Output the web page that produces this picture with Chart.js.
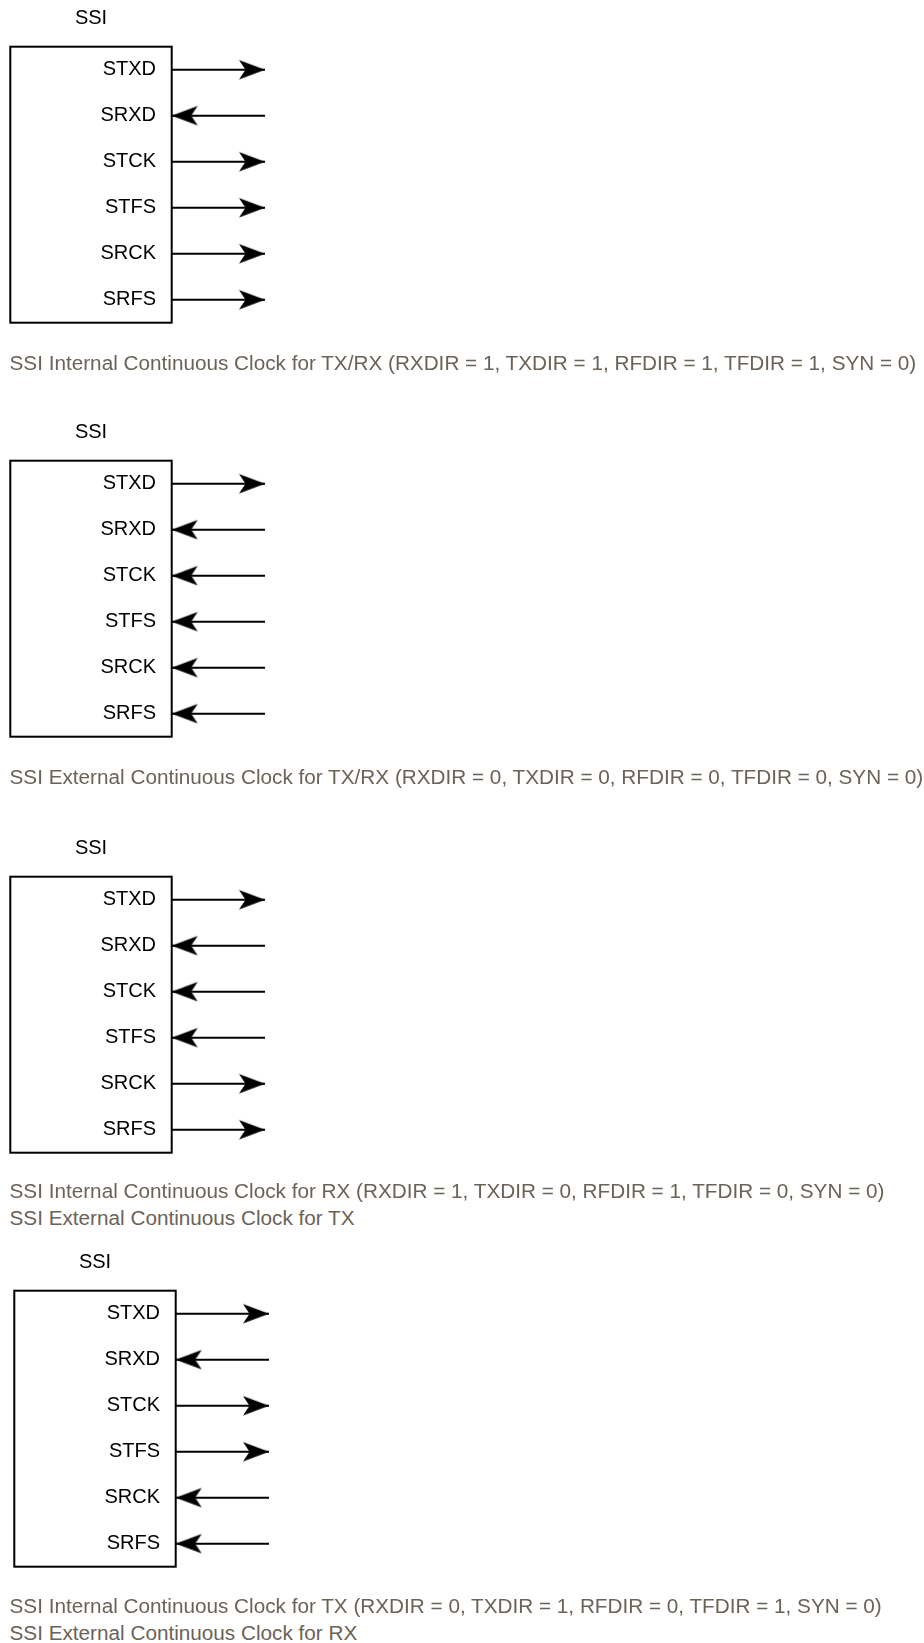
<!DOCTYPE html>
<html><head><meta charset="utf-8">
<script src="https://cdn.jsdelivr.net/npm/chart.js@4/dist/chart.umd.min.js"></script>
<style>
html,body{margin:0;padding:0;background:#fff;}
body{width:924px;height:1643px;position:relative;overflow:hidden;}
.panel{position:absolute;}
.cap{position:absolute;left:9.5px;font-family:"Liberation Sans",Arial,sans-serif;font-size:19px;line-height:26.6px;color:#6b6258;white-space:nowrap;}
</style></head><body>
<script>
// ---- data ----
const signals = ['STXD', 'SRXD', 'STCK', 'STFS', 'SRCK', 'SRFS'];
const blockTitles = ['SSI', 'SSI', 'SSI', 'SSI'];
const dirsPanel1 = ['out', 'in', 'out', 'out', 'out', 'out'];
const dirsPanel2 = ['out', 'in', 'in', 'in', 'in', 'in'];
const dirsPanel3 = ['out', 'in', 'in', 'in', 'out', 'out'];
const dirsPanel4 = ['out', 'in', 'out', 'out', 'in', 'in'];
const captionsPanel1 = ['SSI Internal Continuous Clock for TX/RX (RXDIR = 1, TXDIR = 1, RFDIR = 1, TFDIR = 1, SYN = 0)'];
const captionsPanel2 = ['SSI External Continuous Clock for TX/RX (RXDIR = 0, TXDIR = 0, RFDIR = 0, TFDIR = 0, SYN = 0)'];
const captionsPanel3 = ['SSI Internal Continuous Clock for RX (RXDIR = 1, TXDIR = 0, RFDIR = 1, TFDIR = 0, SYN = 0)', 'SSI External Continuous Clock for TX'];
const captionsPanel4 = ['SSI Internal Continuous Clock for TX (RXDIR = 0, TXDIR = 1, RFDIR = 0, TFDIR = 1, SYN = 0)', 'SSI External Continuous Clock for RX'];

const allDirs = [dirsPanel1, dirsPanel2, dirsPanel3, dirsPanel4];
const allCaps = [captionsPanel1, captionsPanel2, captionsPanel3, captionsPanel4];

// ---- layout (positions / styles) ----
const panelTops = [0, 414.3, 830, 1244.3];
const panelLefts = [0, 0, 0, 4.3];
const captionBaselines = [370.5, 784.5, 1198.7, 1613.5];
const CANVAS_W = 290, CANVAS_H = 352;
const FONT = '"Liberation Sans", Arial, Helvetica, sans-serif';

// fit caption font to reference width
const mc = document.createElement('canvas').getContext('2d');
mc.font = '100px ' + FONT;
const capSize = 908 / mc.measureText(captionsPanel1[0]).width * 100;

// arrowhead image (tip at image centre, pointing right)
function makeArrow() {
  const L = 28, H = 24;
  const c = document.createElement('canvas');
  c.width = 2 * L; c.height = H;
  const g = c.getContext('2d');
  g.fillStyle = '#000';
  g.beginPath();
  g.moveTo(L, H / 2);
  g.lineTo(L - 26, H / 2 - 9.8);
  g.quadraticCurveTo(L - 21.5, H / 2 - 3, L - 19.5, H / 2);
  g.quadraticCurveTo(L - 21.5, H / 2 + 3, L - 26, H / 2 + 9.8);
  g.closePath();
  g.fill();
  return c;
}
const arrowImg = makeArrow();

const boxPlugin = {
  id: 'ssiBox',
  beforeDatasetsDraw(chart) {
    const ca = chart.chartArea, ys = chart.scales.y, ctx = chart.ctx;
    ctx.save();
    ctx.strokeStyle = '#000';
    ctx.lineWidth = 2;
    ctx.strokeRect(ys.left, ca.top, ca.left - ys.left, ca.bottom - ca.top);
    ctx.fillStyle = '#000';
    ctx.font = '20px ' + FONT;
    ctx.textAlign = 'center';
    ctx.textBaseline = 'middle';
    ctx.fillText(chart.options.plugins.ssiBox.title, (ys.left + ca.left) / 2, ca.top - 28.5);
    ctx.restore();
  }
};

allDirs.forEach((dirs, p) => {
  const cv = document.createElement('canvas');
  cv.className = 'panel';
  cv.width = CANVAS_W; cv.height = CANVAS_H;
  cv.style.width = CANVAS_W + 'px'; cv.style.height = CANVAS_H + 'px';
  cv.style.top = panelTops[p] + 'px';
  cv.style.left = panelLefts[p] + 'px';
  document.body.appendChild(cv);

  const datasets = signals.map((s, i) => {
    const out = dirs[i] === 'out';
    return {
      label: s,
      data: [{ x: 0, y: s }, { x: 1, y: s }],
      borderColor: '#000',
      borderWidth: 2,
      pointStyle: arrowImg,
      pointRadius: out ? [0, 5] : [5, 0],
      pointHoverRadius: out ? [0, 5] : [5, 0],
      pointRotation: out ? 0 : 180,
      clip: false,
      tension: 0
    };
  });

  new Chart(cv, {
    type: 'line',
    data: { datasets },
    plugins: [boxPlugin],
    options: {
      responsive: false,
      animation: false,
      events: [],
      layout: { padding: { left: 10.3, top: 46.7, right: CANVAS_W - 265, bottom: CANVAS_H - 322.7 } },
      plugins: { legend: { display: false }, tooltip: { enabled: false }, ssiBox: { title: blockTitles[p] } },
      scales: {
        x: { type: 'linear', min: 0, max: 1, display: false },
        y: {
          type: 'category', labels: signals, offset: true,
          grid: { display: false, drawTicks: false },
          border: { display: false },
          ticks: { color: '#000', padding: 15.7, font: { family: FONT, size: 20 } },
          afterFit(scale) { scale.width = 161.4; scale.paddingTop = 0; scale.paddingBottom = 0; }
        }
      }
    }
  });

  allCaps[p].forEach((t, k) => {
    const d = document.createElement('div');
    d.className = 'cap';
    d.textContent = t;
    d.style.fontSize = capSize + 'px';
    d.style.lineHeight = '26.6px';
    const asc = 0.905 * capSize, desc = 0.212 * capSize;
    const baseOff = (26.6 - asc - desc) / 2 + asc;
    d.style.top = (captionBaselines[p] + k * 26.6 - baseOff) + 'px';
    document.body.appendChild(d);
  });
});
</script>
</body></html>
